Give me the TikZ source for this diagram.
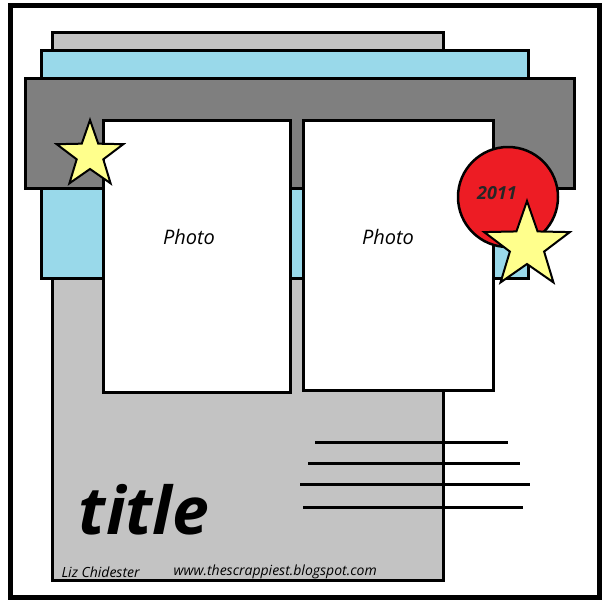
\documentclass[tikz,border=0pt]{standalone}
\usepackage{fontspec}
\setmainfont{Open Sans}
\usepackage{tikz}
\usetikzlibrary{shapes.geometric}
\definecolor{paperGray}{RGB}{195,195,195}
\definecolor{paperBlue}{RGB}{153,217,234}
\definecolor{paperDark}{RGB}{127,127,127}
\definecolor{sealRed}{RGB}{237,28,36}
\definecolor{starYellow}{RGB}{255,255,140}

\begin{document}
\begin{tikzpicture}[
  x=1pt, y=-1pt,
  panel/.style={draw, line width=3pt},
  photo/.style={draw, line width=3pt, fill=white},
  starshape/.style={star, star points=5, star point ratio=2.5, draw, line width=2pt, fill=starYellow, inner sep=0pt},
  journal/.style={line width=3pt},
  phototext/.style={font=\itshape\fontsize{20}{20}\selectfont},
  credit/.style={anchor=west, font=\itshape\fontsize{14}{14}\selectfont}
]
\useasboundingbox (0,0) rectangle (606,603);

% layered papers
\draw[panel, fill=paperGray] (52,32) rectangle (443,580);
\draw[panel, fill=paperBlue] (41,50) rectangle (528,278);
\draw[panel, fill=paperDark] (25,78) rectangle (574,188);

% photos
\draw[photo] (103,120) rectangle (290,392);
\draw[photo] (303.5,120) rectangle (493,390);
\node[phototext] (photoA) at (189,237) {Photo};
\node[phototext] (photoB) at (388,237) {Photo};

% embellishments
\node[circle, draw, line width=2.5pt, fill=sealRed, minimum size=100pt, inner sep=0pt] (seal) at (508,197) {};
\node[font=\bfseries\itshape\fontsize{18}{18}\selectfont, black!85] (year) at (497,193) {2011};
\node[starshape, minimum size=70pt] (starA) at (90,155) {};
\node[starshape, minimum size=90pt] (starB) at (527,246) {};

% journaling lines
\draw[journal] (315,442) -- (508,442);
\draw[journal] (308,463) -- (520,463);
\draw[journal] (300,484) -- (530,484);
\draw[journal] (303,507) -- (523,507);

\node[font=\bfseries\itshape\fontsize{66}{66}\selectfont] (title) at (144,510) {title};
\node[credit] (author) at (58,572) {Liz Chidester};
\node[credit] (blog) at (170,572) {www.thescrappiest.blogspot.com};

% page border
\draw[line width=5pt] (10.5,5) rectangle (599.5,597);
\end{tikzpicture}
\end{document}
